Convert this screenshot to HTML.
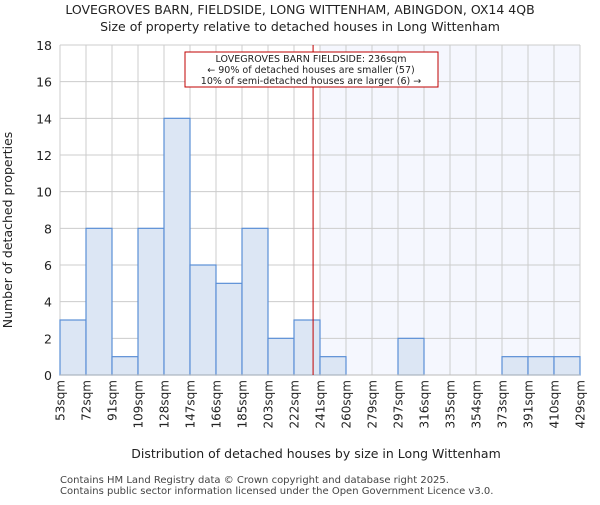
<!DOCTYPE html>
<html><head><meta charset="utf-8"><style>
body{margin:0;background:#fff;}
svg text{font-family:"DejaVu Sans","Liberation Sans",sans-serif;fill:#222;}
</style></head><body>
<svg id="chart" width="600" height="500" xmlns="http://www.w3.org/2000/svg">
<text x="300" y="14" text-anchor="middle" font-size="12.5">LOVEGROVES BARN, FIELDSIDE, LONG WITTENHAM, ABINGDON, OX14 4QB</text>
<text x="300" y="31" text-anchor="middle" font-size="12.5">Size of property relative to detached houses in Long Wittenham</text>
<g id="plot"></g>
<text x="316" y="458" text-anchor="middle" font-size="12.5">Distribution of detached houses by size in Long Wittenham</text>
<text transform="translate(12,230) rotate(-90)" text-anchor="middle" font-size="12.5">Number of detached properties</text>
<text x="60" y="483" font-size="10" style="fill:#444">Contains HM Land Registry data © Crown copyright and database right 2025.</text>
<text x="60" y="494" font-size="10" style="fill:#444">Contains public sector information licensed under the Open Government Licence v3.0.</text>
</svg>
<script>
const categories=["53sqm","72sqm","91sqm","109sqm","128sqm","147sqm","166sqm","185sqm","203sqm","222sqm","241sqm","260sqm","279sqm","297sqm","316sqm","335sqm","354sqm","373sqm","391sqm","410sqm","429sqm"];
const counts=[3,8,1,8,14,6,5,8,2,3,1,0,0,2,0,0,0,1,1,1];
const yTicks=[0,2,4,6,8,10,12,14,16,18];
const binStart=53, binWidth=18.8, subjectSize=236;
const X0=60,X1=580,Y0=375,Y1=45,yMax=18;
const nb=counts.length, bw=(X1-X0)/nb;
const xs=i=>X0+i*bw;
const xv=v=>X0+(v-binStart)/binWidth*bw;
const ys=v=>Y0-(v/yMax)*(Y0-Y1);
const NS="http://www.w3.org/2000/svg";
const g=document.getElementById('plot');
function mk(t,a){const e=document.createElementNS(NS,t);for(const k in a)e.setAttribute(k,a[k]);g.appendChild(e);return e;}
const shadeIdx=Math.ceil((subjectSize-binStart)/binWidth);
let sh=mk('rect',{x:xs(shadeIdx),y:Y1,width:X1-xs(shadeIdx),height:Y0-Y1,fill:'#f5f7fe'});


for(const t of yTicks){
 let l=mk('line',{x1:X0,x2:X1,y1:ys(t),y2:ys(t),stroke:'#cccccc'});
 
 
 let tx=mk('text',{x:X0-8,y:ys(t)+5,'text-anchor':'end','font-size':12.5});tx.textContent=t;
 
 
}
categories.forEach((c,i)=>{
 let l=mk('line',{x1:xs(i),x2:xs(i),y1:Y1,y2:Y0,stroke:'#cccccc'});
 
 
 let tx=mk('text',{transform:`translate(${xs(i)+4.5},380) rotate(-90)`,'text-anchor':'end','font-size':12});tx.textContent=c;
 
 
});
counts.forEach((v,i)=>{
 if(v<=0)return;
 let r=mk('rect',{x:xs(i),y:ys(v),width:bw,height:Y0-ys(v),fill:'#dce6f4',stroke:'#5b8fd6','stroke-width':1.2});
 
 
});
let ax=mk('line',{x1:X0,x2:X1,y1:Y0,y2:Y0,stroke:'#bbbbbb'});


let rl=mk('line',{x1:xv(subjectSize),x2:xv(subjectSize),y1:Y1,y2:Y0,stroke:'#c00000','stroke-width':1});


let box=mk('rect',{x:185,y:52,width:253,height:35,fill:'#fff',stroke:'#c00000','stroke-width':1});


["LOVEGROVES BARN FIELDSIDE: 236sqm","← 90% of detached houses are smaller (57)","10% of semi-detached houses are larger (6) →"].forEach((s,i)=>{
 let t=mk('text',{x:311,y:62+i*11,'text-anchor':'middle','font-size':9.5});t.textContent=s;
 
 
});
</script>
</body></html>
